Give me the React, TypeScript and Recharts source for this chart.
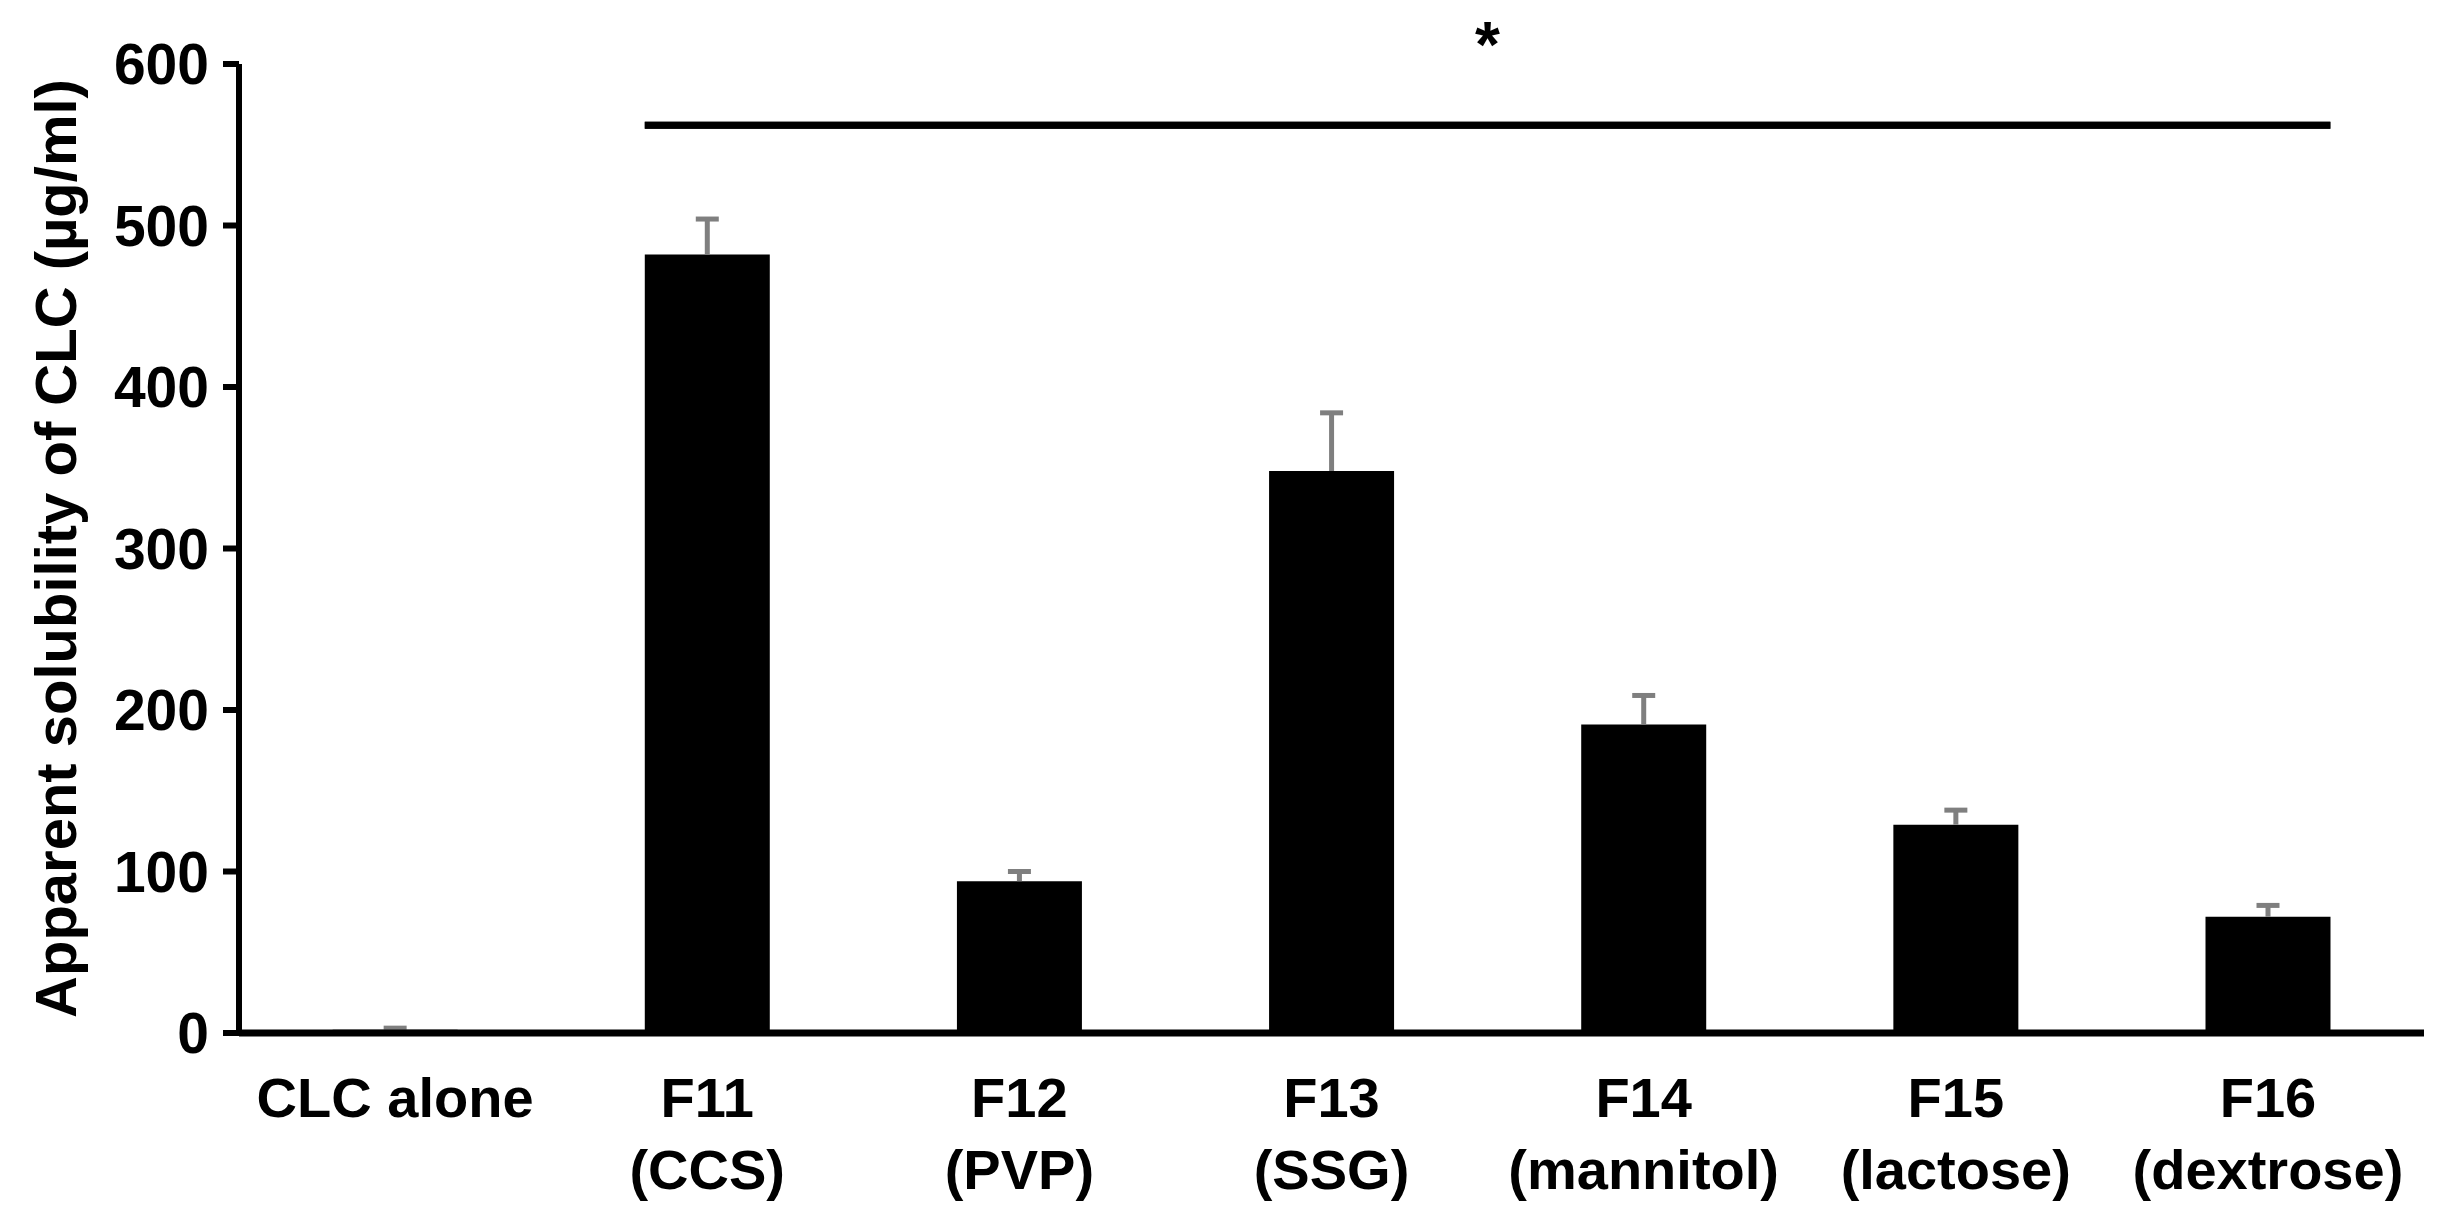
import React from 'react';
import { ComposedChart, Bar, XAxis, YAxis, Scatter, ReferenceLine } from 'recharts';

// values (µg/ml)
const categories = ['CLC alone', 'F11', 'F12', 'F13', 'F14', 'F15', 'F16'];
const subLabels = ['', '(CCS)', '(PVP)', '(SSG)', '(mannitol)', '(lactose)', '(dextrose)'];
const solubility = [2, 482, 94, 348, 191, 129, 72];
const sdUpper = [1, 22, 6, 36, 18, 9, 7];
const yTicks = [0, 100, 200, 300, 400, 500, 600];

// significance bar over F11..F16
const sigLevel = 562;
const sigFrom = 1;
const sigTo = 6;
const gapFrac = 0.3;

const FONT = '"Liberation Sans", Arial, sans-serif';

if (typeof document !== 'undefined') {
  document.body.style.margin = '0';
}

const chartData = categories.map((name, i) => ({
  name,
  value: solubility[i],
  sd: sdUpper[i],
}));

const sigPoints = [
  { x: sigFrom + gapFrac, y: sigLevel },
  { x: sigTo + 1 - gapFrac, y: sigLevel },
];

function CategoryTick(props: any) {
  const { x, y, payload, index } = props;
  const sub = subLabels[index];
  return (
    <text x={x} y={y} textAnchor="middle" fontFamily={FONT} fontWeight="bold" fontSize={56} fill="#000">
      <tspan x={x} dy={84}>{payload.value}</tspan>
      {sub ? <tspan x={x} dy={72}>{sub}</tspan> : null}
    </text>
  );
}

function YTitle(props: any) {
  const { viewBox } = props;
  const cx = viewBox.x + 55;
  const cy = viewBox.y + viewBox.height / 2;
  return (
    <text
      x={cx}
      y={cy}
      transform={`rotate(-90, ${cx}, ${cy})`}
      textAnchor="middle"
      dominantBaseline="central"
      fontFamily={FONT}
      fontWeight="bold"
      fontSize={58}
      fill="#000"
    >
      Apparent solubility of CLC (µg/ml)
    </text>
  );
}

// upper whisker only, drawn on the stacked sd segment
function Whisker(props: any) {
  const { x, y, width, height } = props;
  if (x == null || y == null) return <g />;
  const cx = x + width / 2;
  return (
    <g stroke="#7f7f7f" strokeWidth={5}>
      <line x1={cx} x2={cx} y1={y} y2={y + height} />
      <line x1={cx - 11.5} x2={cx + 11.5} y1={y} y2={y} />
    </g>
  );
}

export default function App() {
  return (
    <div style={{ width: 2453, height: 1221, background: '#fff' }}>
      <ComposedChart
        width={2453}
        height={1221}
        data={chartData}
        margin={{ top: 64, right: 29, left: 0, bottom: 28 }}
        barCategoryGap={`${gapFrac * 100}%`}
      >
        <XAxis
          dataKey="name"
          height={160}
          tickLine={false}
          tickSize={0}
          tickMargin={0}
          axisLine={{ stroke: '#000', strokeWidth: 7 }}
          tick={<CategoryTick />}
          interval={0}
        />
        <XAxis
          xAxisId="sig"
          dataKey="x"
          type="number"
          domain={[0, categories.length]}
          allowDataOverflow
          hide
        />
        <YAxis
          width={239}
          domain={[0, 600]}
          ticks={yTicks}
          interval={0}
          tickSize={16}
          tickMargin={14}
          axisLine={{ stroke: '#000', strokeWidth: 6 }}
          tickLine={{ stroke: '#000', strokeWidth: 6 }}
          tick={{ fill: '#000', fontSize: 57, fontWeight: 'bold', fontFamily: FONT }}
          label={<YTitle />}
        />
        <Bar dataKey="value" stackId="s" fill="#000" isAnimationActive={false} />
        <Bar dataKey="sd" stackId="s" fill="none" shape={<Whisker />} isAnimationActive={false} />
        <Scatter
          xAxisId="sig"
          data={sigPoints}
          dataKey="y"
          line={{ stroke: '#000', strokeWidth: 7 }}
          shape={() => <g />}
          isAnimationActive={false}
        />
        <ReferenceLine
          xAxisId="sig"
          segment={sigPoints}
          stroke="#000"
          strokeWidth={7}
          label={{
            value: '*',
            position: 'top',
            offset: 58,
            fill: '#000',
            fontSize: 64,
            fontWeight: 'bold',
            fontFamily: FONT,
          }}
        />
      </ComposedChart>
    </div>
  );
}
